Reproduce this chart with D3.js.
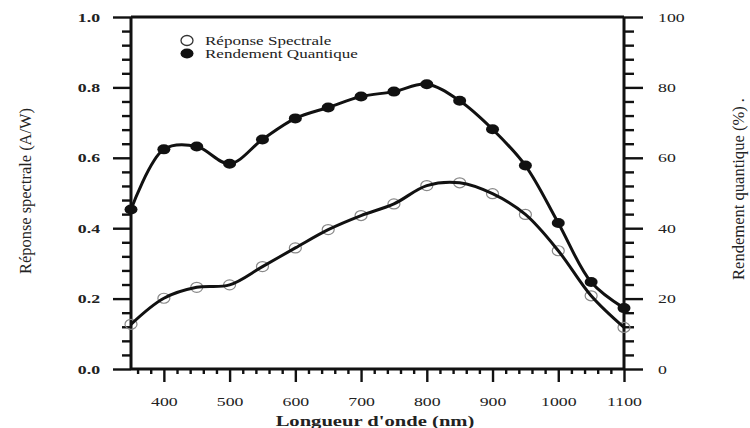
<!DOCTYPE html>
<html>
<head>
<meta charset="utf-8">
<script src="https://cdn.jsdelivr.net/npm/d3@7"></script>
<style>
  body { margin: 0; background: #fff; }
  svg { display: block; font-family: "Liberation Serif", "Times New Roman", serif; }
</style>
</head>
<body>
<div class="main"></div>
<script>
// data
const wavelengths = [350, 400, 450, 500, 550, 600, 650, 700, 750, 800, 850, 900, 950, 1000, 1050, 1100]
const reponseSpectrale = [0.127, 0.201, 0.232, 0.239, 0.291, 0.344, 0.396, 0.436, 0.469, 0.521, 0.529, 0.498, 0.439, 0.336, 0.208, 0.118]
const rendementQuantique = [45.3, 62.4, 63.2, 58.3, 65.2, 71.2, 74.3, 77.4, 78.8, 80.9, 76.2, 68.1, 57.8, 41.5, 24.7, 17.3]

const xMajor = [400, 500, 600, 700, 800, 900, 1000, 1100]
const leftMajor = [0, 0.2, 0.4, 0.6, 0.8, 1.0]
const rightMajor = [0, 20, 40, 60, 80, 100]
const legendLabels = ["Réponse Spectrale", "Rendement Quantique"]

const W = 750, H = 428
const x0 = 131, x1 = 624, yTop = 17, yBot = 369
const stretch = 1.42   // the scan is wider than tall

const svg = d3.select(".main")
    .append("svg")
    .attr("width", W)
    .attr("height", H)

svg.append("rect").attr("width", W).attr("height", H).attr("fill", "#fff")

const x = d3.scaleLinear().domain([350, 1100]).range([x0, x1])
const yL = d3.scaleLinear().domain([0, 1]).range([yBot, yTop])
const yR = d3.scaleLinear().domain([0, 100]).range([yBot, yTop])

function widen(sel, k = stretch) {
    sel.each(function () {
        const w = this.getComputedTextLength()
        this.setAttribute("textLength", w * k)
        this.setAttribute("lengthAdjust", "spacingAndGlyphs")
    })
}

function styleAxis(g, weight) {
    g.select(".domain").remove()
    g.selectAll("line").attr("stroke", "#111").attr("stroke-width", 2.4)
    g.selectAll("text")
        .attr("fill", "#222")
        .attr("font-family", "'Liberation Serif', serif")
        .attr("font-size", 12.5)
        .attr("font-weight", weight)
}

// minor ticks (every 20 nm, 0.04 A/W, 4 %)
const minorX = d3.range(360, 1100, 20).filter(d => d % 100 !== 0)
const minorL = d3.range(1, 25).filter(i => i % 5 !== 0).map(i => i * 0.04)
const minorR = d3.range(1, 25).filter(i => i % 5 !== 0).map(i => i * 4)

svg.append("g").attr("transform", `translate(0,${yBot})`)
    .call(d3.axisBottom(x).tickValues(minorX).tickSize(5).tickFormat(() => ""))
    .call(g => styleAxis(g, "normal"))
svg.append("g").attr("transform", `translate(${x0},0)`)
    .call(d3.axisLeft(yL).tickValues(minorL).tickSize(9).tickFormat(() => ""))
    .call(g => styleAxis(g, "normal"))
svg.append("g").attr("transform", `translate(${x1},0)`)
    .call(d3.axisRight(yR).tickValues(minorR).tickSize(10).tickFormat(() => ""))
    .call(g => styleAxis(g, "normal"))

// major ticks
svg.append("g").attr("transform", `translate(0,${yBot})`)
    .call(d3.axisBottom(x).tickValues(xMajor).tickSize(13).tickPadding(15).tickFormat(d3.format("d")))
    .call(g => styleAxis(g, "normal"))
    .call(g => widen(g.selectAll("text")))
svg.append("g").attr("transform", `translate(${x0},0)`)
    .call(d3.axisLeft(yL).tickValues(leftMajor).tickSize(18).tickPadding(13).tickFormat(d3.format(".1f")))
    .call(g => styleAxis(g, "bold"))
    .call(g => widen(g.selectAll("text")))
svg.append("g").attr("transform", `translate(${x1},0)`)
    .call(d3.axisRight(yR).tickValues(rightMajor).tickSize(19).tickPadding(15).tickFormat(d3.format("d")))
    .call(g => styleAxis(g, "normal"))
    .call(g => widen(g.selectAll("text")))

// frame
const frame = svg.append("g").attr("stroke", "#111").attr("stroke-width", 3).attr("fill", "none")
frame.append("line").attr("x1", x0).attr("x2", x0).attr("y1", yTop).attr("y2", yBot)
frame.append("line").attr("x1", x1).attr("x2", x1).attr("y1", yTop).attr("y2", yBot)
frame.append("line").attr("x1", x0).attr("x2", x1).attr("y1", yTop).attr("y2", yTop)
frame.append("line").attr("x1", x0).attr("x2", x1).attr("y1", yBot).attr("y2", yBot)

// curves
const rsData = wavelengths.map((w, i) => [w, reponseSpectrale[i]])
const rqData = wavelengths.map((w, i) => [w, rendementQuantique[i]])

svg.append("g").selectAll("ellipse")
    .data(rsData)
    .join("ellipse")
    .attr("cx", d => x(d[0]))
    .attr("cy", d => yL(d[1]))
    .attr("rx", 6).attr("ry", 5)
    .attr("fill", "none")
    .attr("stroke", "#888")
    .attr("stroke-width", 1.2)

const line = d3.line().curve(d3.curveCatmullRom.alpha(0.5))

svg.append("path")
    .attr("d", line(rsData.map(d => [x(d[0]), yL(d[1])])))
    .attr("fill", "none").attr("stroke", "#111").attr("stroke-width", 3)

svg.append("path")
    .attr("d", line(rqData.map(d => [x(d[0]), yR(d[1])])))
    .attr("fill", "none").attr("stroke", "#111").attr("stroke-width", 3)

svg.append("g").selectAll("ellipse")
    .data(rqData)
    .join("ellipse")
    .attr("cx", d => x(d[0]))
    .attr("cy", d => yR(d[1]))
    .attr("rx", 6.5).attr("ry", 5)
    .attr("fill", "#111")

// legend
const leg = svg.append("g")
leg.append("ellipse").attr("cx", 187).attr("cy", 40.5).attr("rx", 6).attr("ry", 5)
    .attr("fill", "#fff").attr("stroke", "#333").attr("stroke-width", 1.3)
leg.append("ellipse").attr("cx", 187).attr("cy", 53.5).attr("rx", 6.5).attr("ry", 5)
    .attr("fill", "#111")
leg.selectAll("text")
    .data(legendLabels)
    .join("text")
    .attr("x", 205)
    .attr("y", (d, i) => 44.5 + i * 13)
    .attr("font-size", 12)
    .attr("fill", "#222")
    .text(d => d)
    .call(widen, 1.42)

// titles
svg.append("text")
    .attr("x", 375).attr("y", 426)
    .attr("text-anchor", "middle")
    .attr("font-size", 14.5)
    .attr("font-weight", "bold")
    .attr("fill", "#222")
    .text("Longueur d'onde (nm)")
    .call(widen, 1.42)

svg.append("text")
    .attr("transform", "translate(31,191) rotate(-90)")
    .attr("text-anchor", "middle")
    .attr("font-size", 17)
    .attr("textLength", 166)
    .attr("lengthAdjust", "spacingAndGlyphs")
    .attr("fill", "#222")
    .text("Réponse spectrale (A/W)")

svg.append("text")
    .attr("transform", "translate(744,189) rotate(-90)")
    .attr("text-anchor", "middle")
    .attr("font-size", 17)
    .attr("textLength", 182)
    .attr("lengthAdjust", "spacingAndGlyphs")
    .attr("fill", "#222")
    .text("Rendement quantique (%) .")
</script>
</body>
</html>
